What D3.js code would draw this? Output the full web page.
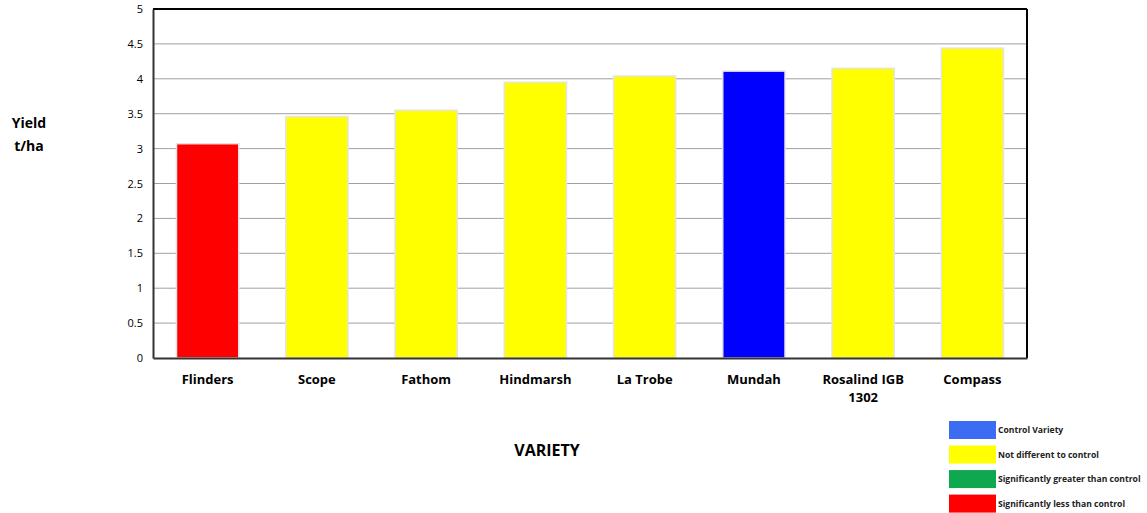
<!DOCTYPE html>
<html>
<head>
<meta charset="utf-8">
<script src="https://cdn.jsdelivr.net/npm/d3@7"></script>
<style>
  body { margin: 0; background: #fff; }
  svg { display: block; font-family: "Open Sans", "Liberation Sans", sans-serif; }
</style>
</head>
<body>
<svg id="chart" width="1147" height="513"></svg>
<script>
const categories = ["Flinders", "Scope", "Fathom", "Hindmarsh", "La Trobe", "Mundah", "Rosalind IGB 1302", "Compass"];
const yields = [3.07, 3.46, 3.55, 3.95, 4.04, 4.11, 4.15, 4.44];
const groups = ["less", "same", "same", "same", "same", "control", "same", "same"];
const yTicks = [0, 0.5, 1, 1.5, 2, 2.5, 3, 3.5, 4, 4.5, 5];
const legendKeys = ["control", "same", "greater", "less"];
const legendLabels = ["Control Variety", "Not different to control", "Significantly greater than control", "Significantly less than control"];
const barColors = { control: "#0000ff", same: "#ffff00", greater: "#00b050", less: "#ff0000" };
const legendColors = { control: "#3b6cf2", same: "#ffff00", greater: "#0fa84f", less: "#ff0000" };

const svg = d3.select("#chart");
const pL = 153, pR = 1027, pT = 9, pB = 358;

const x = d3.scaleBand().domain(categories).range([pL, pR]).paddingInner(0.43).paddingOuter(0.215);
const y = d3.scaleLinear().domain([0, 5]).range([pB, pT]);

// gridlines
svg.append("g")
  .selectAll("line")
  .data(yTicks.filter(d => d > 0 && d < 5))
  .join("line")
  .attr("x1", pL).attr("x2", pR)
  .attr("y1", d => y(d)).attr("y2", d => y(d))
  .attr("stroke", "#a0a0a0").attr("stroke-width", 1);

// bars
svg.append("g")
  .selectAll("rect")
  .data(categories)
  .join("rect")
  .attr("x", d => x(d))
  .attr("width", x.bandwidth())
  .attr("y", (d, i) => y(yields[i]))
  .attr("height", (d, i) => pB - y(yields[i]))
  .attr("fill", (d, i) => barColors[groups[i]])
  .attr("stroke", "#e4e4e4")
  .attr("stroke-width", 1.5);

// frame
svg.append("line").attr("x1", pL).attr("x2", pR).attr("y1", pT).attr("y2", pT).attr("stroke", "#000").attr("stroke-width", 2);
svg.append("line").attr("x1", pR).attr("x2", pR).attr("y1", pT).attr("y2", pB).attr("stroke", "#000").attr("stroke-width", 2);

// y axis
const yAxis = d3.axisLeft(y).tickValues(yTicks).tickSize(0).tickPadding(10).tickFormat(d3.format("~g"));
const ya = svg.append("g").attr("transform", `translate(${pL},0)`).call(yAxis);
ya.select(".domain").attr("stroke", "#333").attr("stroke-width", 2);
ya.selectAll("text").attr("font-size", 11).attr("fill", "#000").attr("font-family", "'Open Sans', sans-serif");

// x axis
const xAxis = d3.axisBottom(x).tickSize(0).tickPadding(17);
const xa = svg.append("g").attr("transform", `translate(0,${pB})`).call(xAxis);
xa.select(".domain").attr("stroke", "#333").attr("stroke-width", 2);
xa.selectAll("text")
  .attr("font-size", 13).attr("font-weight", "bold").attr("fill", "#000")
  .attr("font-family", "'Open Sans', sans-serif")
  .each(function(d) {
    const t = d3.select(this);
    if (d === "Rosalind IGB 1302") {
      t.text(null);
      t.append("tspan").attr("x", 0).attr("dy", "0.71em").text("Rosalind IGB");
      t.append("tspan").attr("x", 0).attr("dy", "1.35em").text("1302");
      t.attr("dy", null);
    }
  });

// axis titles
svg.append("text").attr("x", 29).attr("y", 128).attr("text-anchor", "middle")
  .attr("font-size", 14).attr("font-weight", "bold").text("Yield");
svg.append("text").attr("x", 29).attr("y", 151).attr("text-anchor", "middle")
  .attr("font-size", 14).attr("font-weight", "bold").text("t/ha");
svg.append("text").attr("x", 547).attr("y", 456).attr("text-anchor", "middle")
  .attr("font-size", 16).attr("font-weight", "bold").text("VARIETY");

// legend
const lg = svg.append("g");
const ly = d3.scaleBand().domain(legendKeys).range([421, 513]).paddingInner(0.25);
lg.selectAll("rect").data(legendKeys).join("rect")
  .attr("x", 949).attr("width", 47)
  .attr("y", d => ly(d)).attr("height", 18)
  .attr("fill", d => legendColors[d]);
lg.selectAll("text").data(legendKeys).join("text")
  .attr("x", 998).attr("y", d => ly(d) + 9).attr("dy", "0.35em")
  .attr("font-size", 8.6).attr("font-weight", "bold").attr("fill", "#222")
  .text((d, i) => legendLabels[i]);
</script>
</body>
</html>
